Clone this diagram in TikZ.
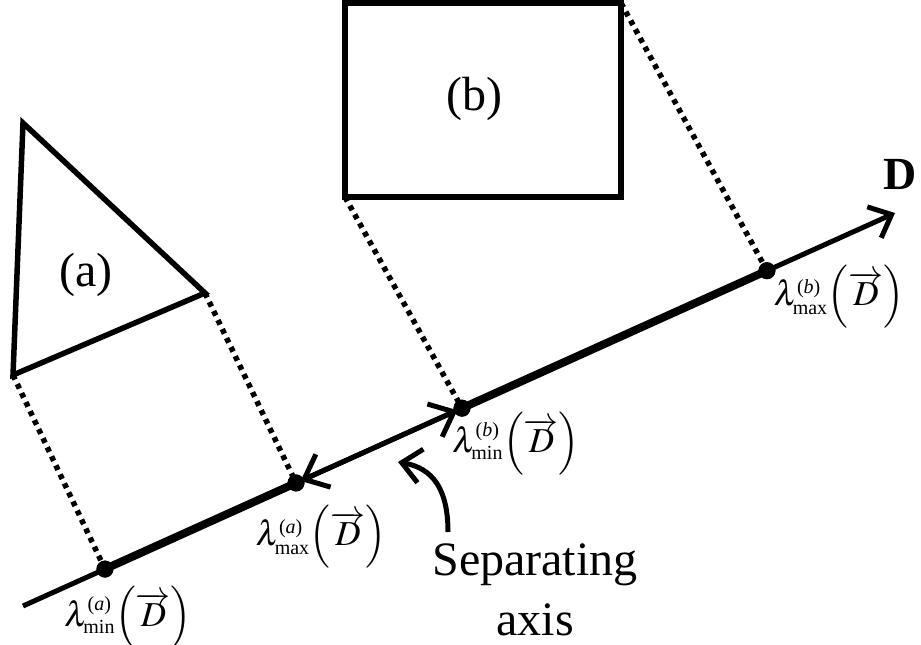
\documentclass[tikz,border=0pt]{standalone}
\usepackage{mathptmx}
\usepackage{fontspec}
\setmainfont{Liberation Serif}
\usetikzlibrary{arrows.meta,calc}
\newcommand{\scr}[1]{\hbox{\fontsize{20}{20}\selectfont #1}}
\newcommand{\projlbl}[2]{$\lambda^{\scr{(\textit{#1})}}_{\scr{#2}}\Bigl(\overrightarrow{D}\Bigr)$}
\begin{document}
\begin{tikzpicture}[x=1pt,y=-1pt,
  outline/.style={line width=5.5pt, line join=miter},
  axisline/.style={line width=5pt},
  projseg/.style={line width=8pt},
  projline/.style={line width=5.5pt, dash pattern=on 5pt off 5pt},
  dotnode/.style={circle, fill=black, inner sep=0pt, minimum size=17pt},
  lbl/.style={font=\fontsize{35}{40}\selectfont, inner sep=0pt},
  bigtext/.style={font=\fontsize{48}{60}\selectfont, align=center, inner sep=0pt},
  barb/.style={-{Straight Barb[length=19pt,width=34pt]}},
  dbarb/.style={{Straight Barb[length=21pt,width=36pt]}-{Straight Barb[length=21pt,width=36pt]}}
]
\useasboundingbox (0,0) rectangle (921,645);
% axis
\coordinate (A) at (23,606);
\coordinate (B) at (895,213);
\node[dotnode] (amin) at ($(A)!0.094!(B)$) {};
\node[dotnode] (amax) at ($(A)!0.3131!(B)$) {};
\node[dotnode] (bmin) at ($(A)!0.5034!(B)$) {};
\node[dotnode] (bmax) at ($(A)!0.8532!(B)$) {};
% shapes
\coordinate (t1) at (23,123);
\coordinate (t2) at (205,293);
\coordinate (t3) at (13,375);
\coordinate (r1) at (345,3);
\coordinate (r2) at (621,3);
\coordinate (r3) at (621,197);
\coordinate (r4) at (345,197);
\draw[outline] (t1) -- (t2) -- (t3) -- cycle;
\draw[outline] (r1) -- (r2) -- (r3) -- (r4) -- cycle;
\node[bigtext] (la) at (86,275) {(a)};
\node[bigtext] (lb) at (474,99) {(b)};
% projections
\draw[projline] (t3) -- (amin.center);
\draw[projline] (t2) -- (amax.center);
\draw[projline] (r4) -- (bmin.center);
\draw[projline] (r2) -- (bmax.center);
% axis line
\draw[axisline, barb] (A) -- (B);
\draw[projseg] (amin.center) -- (amax.center);
\draw[projseg] (bmin.center) -- (bmax.center);
\draw[axisline, dbarb, shorten <=5pt, shorten >=5pt] (amax.center) -- (bmin.center);
% dots on top
\fill (amin) circle (8.5pt);
\fill (amax) circle (8.5pt);
\fill (bmin) circle (8.5pt);
\fill (bmax) circle (8.5pt);
% labels
\node[lbl] (lamin) at (128,618) {\projlbl{a}{min}};
\node[lbl] (lamax) at (321,537) {\projlbl{a}{max}};
\node[lbl] (lbmin) at (516,444) {\projlbl{b}{min}};
\node[lbl] (lbmax) at (839,297) {\projlbl{b}{max}};
\node[font=\fontsize{46}{50}\selectfont\bfseries, inner sep=0pt] (dlab) at (900,174) {D};
% separating axis
\node[bigtext, anchor=north] (sep) at (535,544) {Separating\\axis};
\coordinate (cs) at (448,532);
\coordinate (ce) at (398,462);
\draw[line width=5pt, barb] (cs) .. controls (448,488) and (432,468) .. (ce);
\end{tikzpicture}
\end{document}
